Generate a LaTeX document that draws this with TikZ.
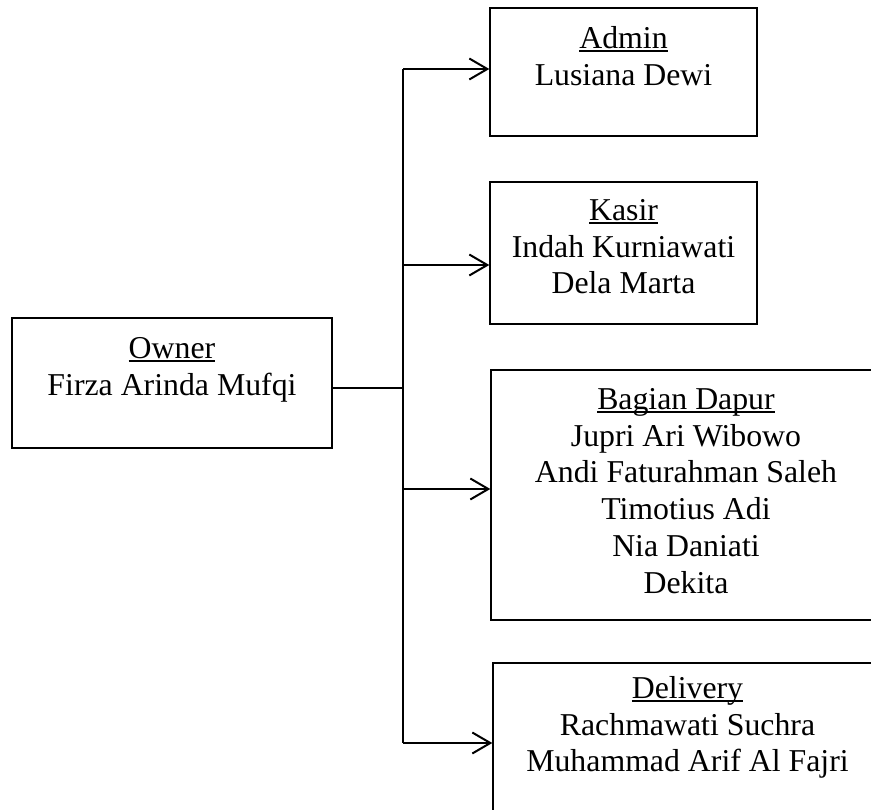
\documentclass[tikz,border=0pt]{standalone}
\usepackage{fontspec}
\setmainfont{Liberation Serif}
\usepackage{tikz}
\usetikzlibrary{calc, arrows.meta}

\newcommand{\uln}[1]{\setbox0\hbox{#1}\rlap{\rule[-3.5pt]{\wd0}{1.6pt}}\box0}

\tikzset{
  box/.style={draw, line width=1.4pt, inner sep=0pt},
  lbl/.style={align=center, anchor=north, inner sep=0pt,
    font=\fontsize{31.8}{36.8}\selectfont},
  arr/.style={-{Straight Barb[length=18pt, width=21pt]}, line width=2pt},
}

\begin{document}
\begin{tikzpicture}[x=1pt, y=-1pt]
    \useasboundingbox (0,0) rectangle (871,810);

    % boxes
    \node[box, minimum width=320pt, minimum height=130pt] (own) at (172,383) {};
    \node[box, minimum width=267pt, minimum height=128pt] (admin) at (623.5,72) {};
    \node[box, minimum width=267pt, minimum height=142pt] (kasir) at (623.5,253) {};
    \node[box, minimum width=390pt, minimum height=250pt] (dapur) at (686,495) {};
    \node[box, minimum width=389pt, minimum height=170pt] (deliv) at (687.5,748) {};

    % texts
    \node[lbl] (ownT) at ([yshift=-15pt]own.north) {\strut\uln{Owner}\\Firza Arinda Mufqi};
    \node[lbl] (adminT) at ([yshift=-15pt]admin.north) {\strut\uln{Admin}\\Lusiana Dewi};
    \node[lbl] (kasirT) at ([yshift=-13pt]kasir.north) {\strut\uln{Kasir}\\Indah Kurniawati\\Dela Marta};
    \node[lbl] (dapurT) at ([yshift=-14pt]dapur.north) {\strut\uln{Bagian Dapur}\\Jupri Ari Wibowo\\Andi Faturahman Saleh\\Timotius Adi\\Nia Daniati\\Dekita};
    \node[lbl] (delivT) at ([yshift=-10pt]deliv.north) {\strut\uln{Delivery}\\Rachmawati Suchra\\Muhammad Arif Al Fajri};

    % bus
    \coordinate (jn) at (403,388);
    \coordinate (b1) at (403,69);
    \coordinate (b2) at (403,265);
    \coordinate (b3) at (403,489);
    \coordinate (b4) at (403,743);

    \draw[line width=1.2pt] (own.east |- jn) -- (jn);
    \draw[line width=1.2pt] (b1) -- (b4);
    \draw[arr] (b1) -- (b1 -| admin.west);
    \draw[arr] (b2) -- (b2 -| kasir.west);
    \draw[arr] (b3) -- (b3 -| dapur.west);
    \draw[arr] (b4) -- (b4 -| deliv.west);
\end{tikzpicture}
\end{document}
